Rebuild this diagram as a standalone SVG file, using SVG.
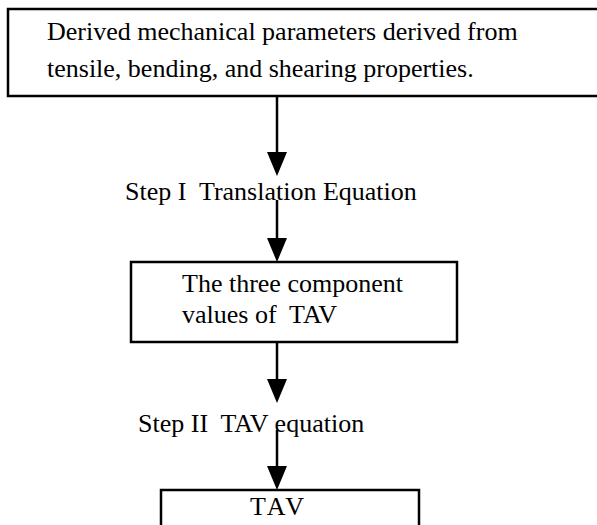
<svg xmlns="http://www.w3.org/2000/svg" width="597" height="525" viewBox="0 0 597 525">
<defs>
<style>
.box{fill:#fff;stroke:#000;stroke-width:2.5}
.t{font-family:"Liberation Serif","Times New Roman",serif;font-size:26px;fill:#000}
.c{stroke:#000;stroke-width:2.5;fill:none}
</style>
<marker id="ah" markerUnits="userSpaceOnUse" markerWidth="24" markerHeight="20" refX="14" refY="10" orient="auto" viewBox="0 0 24 20">
<path d="M0,0 L24,10 L0,20 Z" fill="#000"/>
</marker>
</defs>
<rect width="597" height="525" fill="#fff"/>
<g id="n1">
<rect class="box" x="8" y="9" width="600" height="87"/>
<text class="t" x="47" y="40">Derived mechanical parameters derived from</text>
<text class="t" x="47" y="77">tensile, bending, and shearing properties.</text>
</g>
<g id="n2">
<rect class="box" x="131" y="262" width="326" height="80"/>
<text class="t" x="182" y="292">The three component</text>
<text class="t" x="182" y="323" xml:space="preserve">values of  TAV</text>
</g>
<g id="n3">
<rect class="box" x="161" y="490" width="258" height="60"/>
<text class="t" x="250" y="515" letter-spacing="3">TAV</text>
</g>
<g id="labels">
<text class="t" x="125" y="200" xml:space="preserve">Step I  Translation Equation</text>
<text class="t" x="138" y="432" xml:space="preserve">Step II  TAV equation</text>
</g>
<g id="connectors">
<line class="c" x1="277" y1="96" x2="277" y2="166" marker-end="url(#ah)"/>
<line class="c" x1="277" y1="200" x2="277" y2="252" marker-end="url(#ah)"/>
<line class="c" x1="277" y1="342" x2="277" y2="393" marker-end="url(#ah)"/>
<line class="c" x1="277" y1="430" x2="277" y2="480" marker-end="url(#ah)"/>
</g>
</svg>
